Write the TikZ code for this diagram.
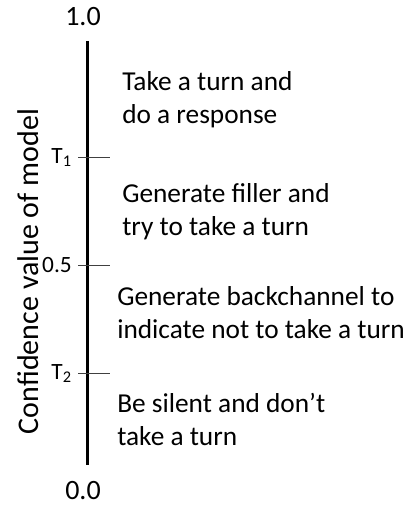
\documentclass[tikz,border=0pt]{standalone}
\usepackage{fontspec}
\setmainfont{Carlito}
\usepackage{tikz}
\usetikzlibrary{calc}
\tikzset{
	tickline/.style={draw=black!75, line width=0.75pt},
	ticklabel/.style={anchor=base east, inner sep=0pt, font=\fontsize{17.5}{21}\selectfont},
	endlabel/.style={inner sep=0pt, font=\fontsize{21}{25}\selectfont},
	zone/.style={anchor=base west, align=left, inner sep=0pt, font=\fontsize{20.5}{24.75}\selectfont}
}

\begin{document}
\begin{tikzpicture}[x=0.75pt, y=-0.75pt]
			%%%%% START %%%%%
			\useasboundingbox (0, 0) rectangle (412, 506);
			
			\draw[line width=2.25pt] (87, 41) -- (87, 465);
			\node[endlabel] (top) at (83, 17) {1.0};
			\node[endlabel] (bottom) at (83, 491) {0.0};
			
			\draw[tickline] (78, 157.7) -- (110, 157.7);
			\node[ticklabel] (tone) at (72, 163.5) {T\textsubscript{1}};
			\draw[tickline] (78, 265) -- (110, 265);
			\node[ticklabel] (half) at (72, 272) {0.5};
			\draw[tickline] (78, 373) -- (110, 373);
			\node[ticklabel] (ttwo) at (72, 379) {T\textsubscript{2}};
			
			\node[endlabel, anchor=base, rotate=90, font=\fontsize{22.5}{27}\selectfont] (ylabel) at (38, 271.5) {Confidence value of model};
			
			% base of a two-line node is the baseline of its last line
			\node[zone] (turn) at (122, 124) {Take a turn and\\do a response};
			\node[zone] (filler) at (122, 235) {Generate filler and\\try to take a turn};
			\node[zone] (backchannel) at (117, 338) {Generate backchannel to\\indicate not to take a turn};
			\node[zone] (silent) at (117, 445) {Be silent and don’t\\take a turn};
			%%%%% END %%%%%
\end{tikzpicture}
\end{document}
